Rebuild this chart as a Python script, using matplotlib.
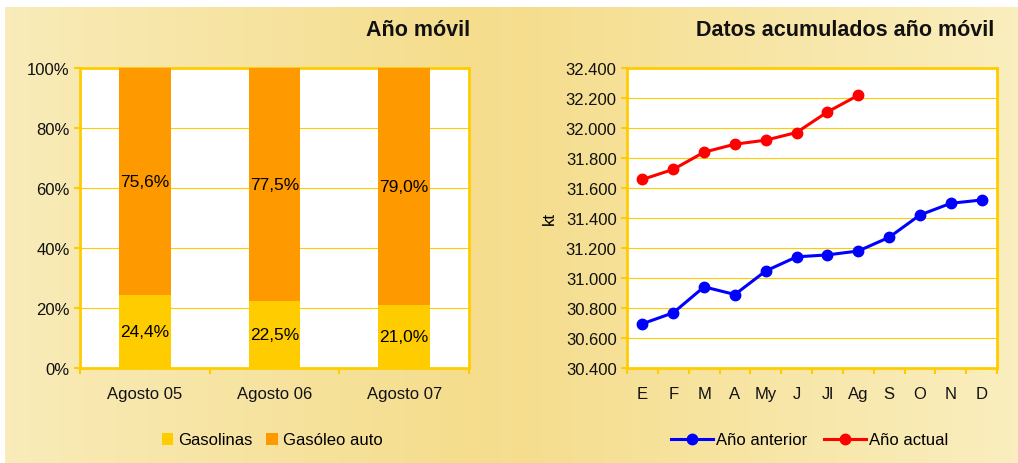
import numpy as np
import matplotlib.pyplot as plt
from matplotlib.colors import LinearSegmentedColormap

plt.rcParams['font.family'] = ['Liberation Sans', 'DejaVu Sans']

# Datos: año móvil
periodos = ['Agosto 05', 'Agosto 06', 'Agosto 07']
gasolinas = [24.4, 22.5, 21.0]
gasoleo = [75.6, 77.5, 79.0]

# Datos acumulados año móvil (kt)
meses = ['E', 'F', 'M', 'A', 'My', 'J', 'Jl', 'Ag', 'S', 'O', 'N', 'D']
anio_anterior = [30695, 30768, 30941, 30890, 31047, 31141, 31154, 31180, 31271, 31420, 31498, 31520]
anio_actual = [31657, 31724, 31839, 31892, 31919, 31970, 32107, 32218]

GOLD = '#FFCC00'
ORANGE = '#FF9900'

fig = plt.figure(figsize=(10.18, 4.64), dpi=100)
fig.patch.set_facecolor('white')

# background gradient panel
bg = fig.add_axes([5 / 1018, 0, 1 - 5 / 1018, 1 - 8 / 464], zorder=-10)
cmap = LinearSegmentedColormap.from_list('bg', ['#F9ECBA', '#F5DD8D', '#FAEEBE'])
grad = np.concatenate([np.linspace(0, 0.5, 100) ** 0.9, 0.5 + np.linspace(0, 0.5, 100)]).reshape(1, -1)
bg.imshow(grad, aspect='auto', cmap=cmap, extent=[0, 1, 0, 1])
bg.set_axis_off()

# ---- left: stacked bars ----
ax1 = fig.add_axes([80 / 1018, 95 / 464, 389 / 1018, 300 / 464])
x = np.arange(len(periodos))
ax1.bar(x, gasolinas, width=0.4, color=GOLD, label='Gasolinas', zorder=3)
ax1.bar(x, gasoleo, width=0.4, bottom=gasolinas, color=ORANGE, label='Gasóleo auto', zorder=3)
for i in range(len(periodos)):
    ax1.text(x[i], gasolinas[i] / 2, f'{gasolinas[i]:.1f}%'.replace('.', ','),
             ha='center', va='center', fontsize=12.5, zorder=4)
    ax1.text(x[i], gasolinas[i] + gasoleo[i] / 2, f'{gasoleo[i]:.1f}%'.replace('.', ','),
             ha='center', va='center', fontsize=12.5, zorder=4)
ax1.set_xlim(-0.5, 2.5)
ax1.set_ylim(0, 100)
ax1.set_yticks(range(0, 101, 20))
ax1.set_yticklabels([f'{v}%' for v in range(0, 101, 20)])
ax1.set_xticks(x)
ax1.set_xticklabels(periodos)
ax1.set_xticks([-0.5, 0.5, 1.5, 2.5], minor=True)
ax1.tick_params(axis='x', which='major', length=0, pad=13)
ax1.tick_params(axis='x', which='minor', length=4, color=GOLD, width=1.5)
ax1.tick_params(axis='y', length=4, color=GOLD, width=1.5)
ax1.tick_params(labelsize=12, labelcolor='#111111')
ax1.grid(axis='y', color=GOLD, lw=0.8, zorder=0)
for s in ax1.spines.values():
    s.set_color(GOLD)
    s.set_linewidth(2)
ax1.set_facecolor('white')
fig.text(470 / 1018, 1 - 31 / 464, 'Año móvil', ha='right', va='center',
         fontsize=15.5, fontweight='bold', color='#111111')
ax1.legend(loc='center', bbox_to_anchor=(272 / 1018, 23 / 464), bbox_transform=fig.transFigure,
           ncol=2, frameon=False, fontsize=12, handlelength=0.7, handleheight=0.7,
           handletextpad=0.3, columnspacing=0.8)

# ---- right: lines ----
ax2 = fig.add_axes([627 / 1018, 95 / 464, 370 / 1018, 300 / 464])
xm = np.arange(len(meses))
ax2.plot(xm, anio_anterior, color='#0000FF', lw=2.2, marker='o', ms=7.5, label='Año anterior', zorder=3)
ax2.plot(xm[:len(anio_actual)], anio_actual, color='#FF0000', lw=2.2, marker='o', ms=7.5,
         label='Año actual', zorder=3)
ax2.set_xlim(-0.5, 11.5)
ax2.set_ylim(30400, 32400)
yt = np.arange(30400, 32401, 200)
ax2.set_yticks(yt)
ax2.set_yticklabels([f'{v // 1000}.{v % 1000:03d}' for v in yt])
ax2.set_xticks(xm)
ax2.set_xticklabels(meses)
ax2.set_xticks(np.arange(-0.5, 12, 1), minor=True)
ax2.tick_params(axis='x', which='major', length=0, pad=13)
ax2.tick_params(axis='x', which='minor', length=4, color=GOLD, width=1.5)
ax2.tick_params(axis='y', length=4, color=GOLD, width=1.5)
ax2.tick_params(labelsize=12, labelcolor='#111111')
ax2.grid(axis='y', color=GOLD, lw=0.8, zorder=0)
for s in ax2.spines.values():
    s.set_color(GOLD)
    s.set_linewidth(2)
ax2.set_facecolor('white')
ax2.set_ylabel('kt', fontsize=12, labelpad=6)
fig.text(994 / 1018, 1 - 31 / 464, 'Datos acumulados año móvil', ha='right', va='center',
         fontsize=15.5, fontweight='bold', color='#111111')
ax2.legend(loc='center', bbox_to_anchor=(810 / 1018, 23 / 464), bbox_transform=fig.transFigure,
           ncol=2, frameon=False, fontsize=12, handlelength=2.5, handletextpad=0.2,
           columnspacing=1.0)

plt.savefig('out.png', dpi=100)
